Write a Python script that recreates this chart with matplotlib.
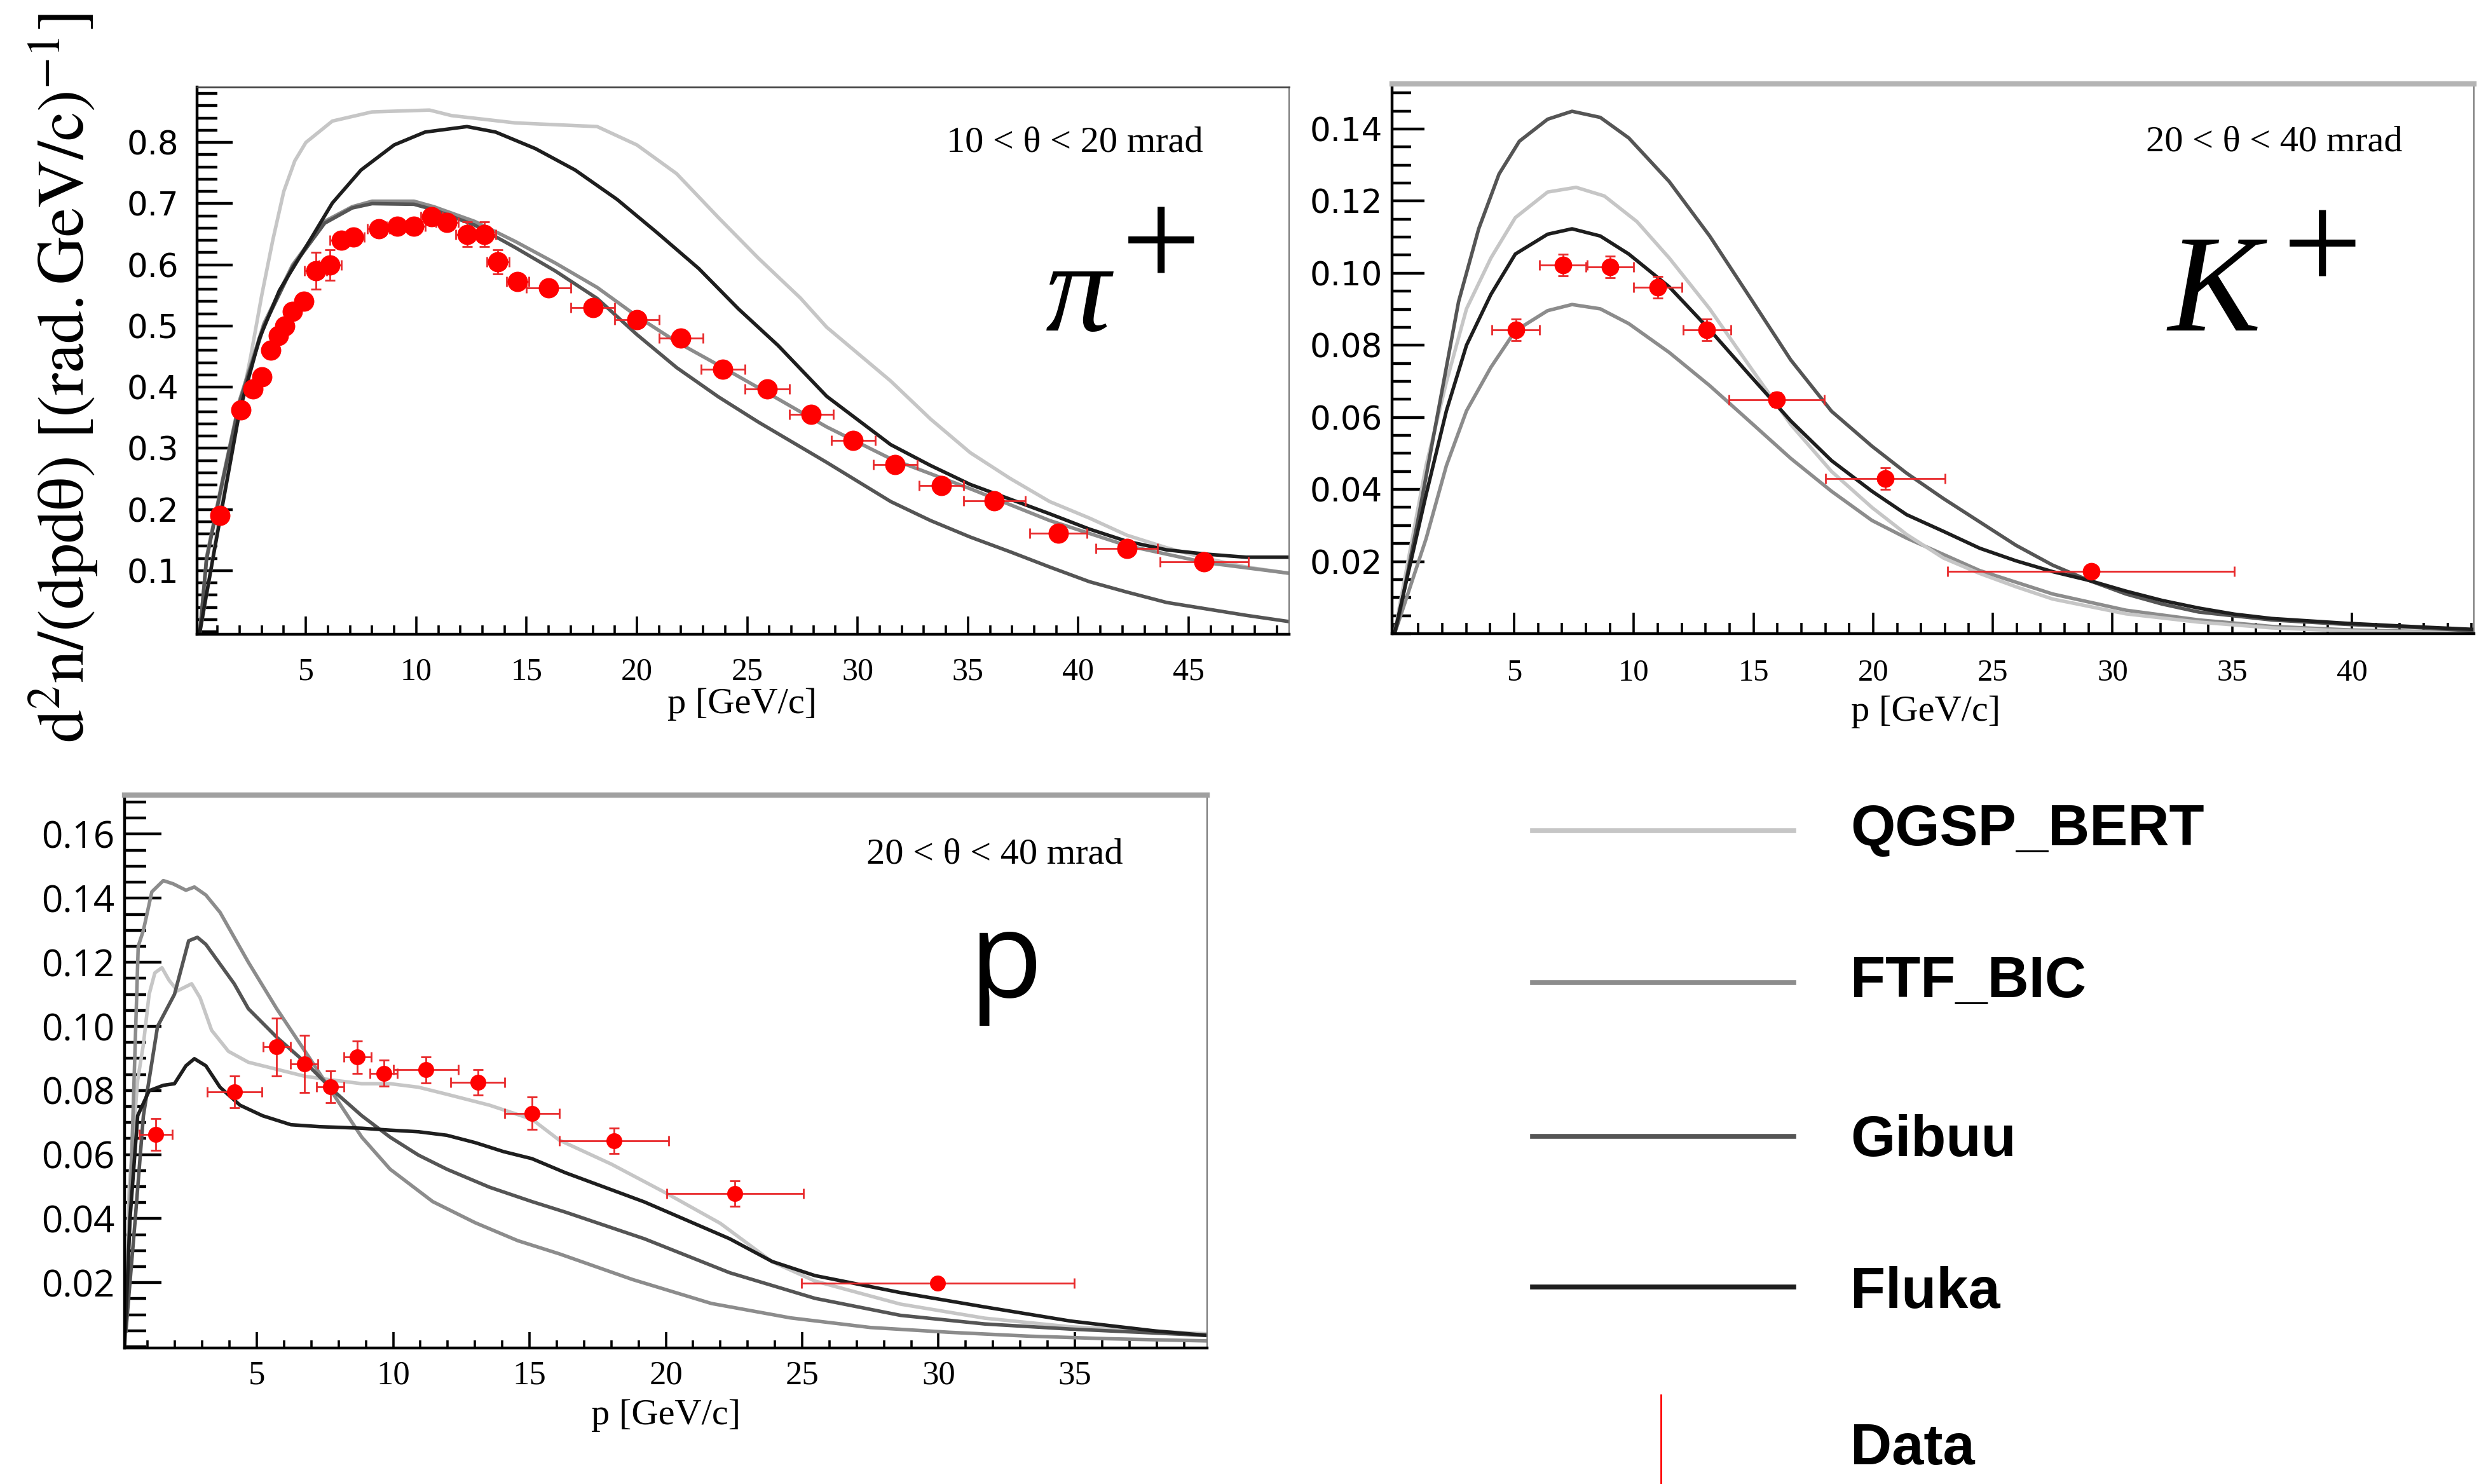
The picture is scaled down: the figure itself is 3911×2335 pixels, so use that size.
import matplotlib
matplotlib.use("Agg")
import matplotlib.pyplot as plt
from matplotlib.lines import Line2D
from matplotlib.ticker import FixedLocator, MultipleLocator, FormatStrFormatter

plt.rcParams['mathtext.fontset'] = 'stix'

SERIF = 'Liberation Serif'

# ---------------- pi+ (10 < theta < 20 mrad) ----------------
PI_P = [1.1, 2.05, 2.6, 3.0, 3.4, 3.75, 4.05, 4.4, 4.9, 5.45, 6.1, 6.6, 7.15, 8.3, 9.15, 9.9,
        10.7, 11.4, 12.3, 13.1, 13.7, 14.6, 16.0, 18.0, 20.0, 22.0, 23.9, 25.9, 27.9, 29.8,
        31.7, 33.8, 36.2, 39.1, 42.2, 45.7]
PI_Y = [0.19, 0.363, 0.397, 0.417, 0.46, 0.484, 0.50, 0.524, 0.54, 0.59, 0.60, 0.64, 0.645,
        0.659, 0.663, 0.663, 0.679, 0.669, 0.65, 0.65, 0.605, 0.573, 0.562, 0.53, 0.51, 0.48,
        0.429, 0.397, 0.355, 0.313, 0.273, 0.239, 0.214, 0.161, 0.136, 0.114]
PI_XERR = [0.3, 0.3, 0.3, 0.3, 0.3, 0.3, 0.3, 0.3, 0.3, 0.5, 0.5, 0.5, 0.5, 0.5, 0.5, 0.5,
           0.5, 0.5, 0.5, 0.5, 0.5, 0.5, 1.0, 1.0, 1.0, 1.0, 1.0, 1.0, 1.0, 1.0,
           1.0, 1.0, 1.4, 1.3, 1.4, 2.0]
PI_YERR = [0.012, 0.012, 0.012, 0.012, 0.012, 0.012, 0.012, 0.012, 0.012, 0.03, 0.025, 0.012,
           0.012, 0.012, 0.012, 0.012, 0.012, 0.012, 0.02, 0.02, 0.02, 0.012, 0.012, 0.012,
           0.012, 0.012, 0.012, 0.012, 0.012, 0.012, 0.012, 0.012, 0.012, 0.012, 0.012, 0.012]

PI_QGSP_P = [0.2, 0.6, 1.0, 1.5, 2.0, 2.5, 3.0, 3.5, 4.0, 4.5, 5.0, 6.2, 8.0, 10.6, 11.6, 14.5,
             18.2, 20.0, 21.8, 23.7, 25.5, 27.4, 28.6, 31.5, 33.3, 35.1, 36.9, 38.7, 40.5, 42.2,
             44.0, 45.8, 47.6, 49.5]
PI_QGSP_Y = [0.0, 0.08, 0.17, 0.27, 0.36, 0.45, 0.55, 0.64, 0.72, 0.77, 0.80, 0.835, 0.85,
             0.853, 0.844, 0.832, 0.826, 0.796, 0.749, 0.677, 0.611, 0.546, 0.498, 0.41, 0.348,
             0.293, 0.251, 0.213, 0.186, 0.158, 0.1375, 0.12, 0.106, 0.096]
PI_FTF_P = [0.2, 0.5, 1.25, 2.0, 3.1, 4.4, 5.85, 7.1, 8.0, 9.9, 10.8, 12.65, 14.5, 16.3, 18.2,
            20.0, 21.8, 23.7, 25.9, 28.6, 31.5, 35.1, 38.7, 42.2, 45.8, 49.5]
PI_FTF_Y = [0.0, 0.122, 0.253, 0.379, 0.504, 0.6, 0.671, 0.695, 0.704, 0.704, 0.695, 0.671,
            0.638, 0.603, 0.563, 0.516, 0.474, 0.436, 0.391, 0.335, 0.283, 0.234, 0.182, 0.141,
            0.113, 0.096]
PI_GIBUU_P = [0.2, 0.5, 1.25, 2.0, 3.1, 4.4, 5.85, 7.1, 8.0, 9.9, 10.8, 12.65, 14.5, 16.3, 18.2,
              20.0, 21.8, 23.7, 25.5, 28.6, 31.5, 33.3, 35.1, 36.9, 38.7, 40.5, 42.2, 44.0, 45.8,
              47.6, 49.5]
PI_GIBUU_Y = [0.0, 0.118, 0.25, 0.375, 0.5, 0.597, 0.668, 0.693, 0.700, 0.699, 0.69, 0.665,
              0.628, 0.59, 0.545, 0.486, 0.432, 0.384, 0.343, 0.277, 0.213, 0.182, 0.155, 0.131,
              0.106, 0.082, 0.065, 0.048, 0.0375, 0.027, 0.017]
PI_FLUKA_P = [0.2, 0.5, 1.25, 2.0, 2.9, 3.8, 5.3, 6.2, 7.5, 9.0, 10.4, 12.3, 13.6, 15.4, 17.2,
              19.1, 20.9, 22.8, 24.6, 26.4, 28.6, 31.5, 33.3, 35.1, 36.9, 38.7, 40.5, 42.2, 44.0,
              45.8, 47.6, 49.5]
PI_FLUKA_Y = [0.0, 0.062, 0.212, 0.361, 0.48, 0.558, 0.647, 0.701, 0.755, 0.796, 0.817, 0.826,
              0.817, 0.79, 0.755, 0.707, 0.653, 0.594, 0.528, 0.468, 0.385, 0.306, 0.272, 0.241,
              0.217, 0.193, 0.168, 0.148, 0.134, 0.127, 0.122, 0.122]

# ---------------- K+ (20 < theta < 40 mrad) ----------------
K_P = [5.07, 7.05, 9.0, 11.0, 13.05, 15.97, 20.5, 29.1]
K_Y = [0.0843, 0.1022, 0.1018, 0.0961, 0.0843, 0.0649, 0.043, 0.0173]
K_XERR = [1.0, 1.0, 1.0, 1.0, 1.0, 2.0, 2.5, 6.0]
K_YERR = [0.003, 0.003, 0.003, 0.003, 0.003, 0.002, 0.003, 0.001]

K_QGSP_P = [0.0, 0.31, 1.32, 2.17, 3.01, 4.03, 5.05, 6.4, 7.59, 8.77, 10.13, 11.48, 13.17,
            14.87, 16.56, 18.26, 19.95, 21.4, 22.93, 24.45, 25.97, 27.5, 30.56, 33.6, 36.65,
            40.0, 45.0]
K_QGSP_Y = [0.0, 0.011, 0.0466, 0.0698, 0.0901, 0.1042, 0.1154, 0.1225, 0.1238, 0.1214, 0.1143,
            0.1042, 0.0901, 0.0739, 0.058, 0.045, 0.035, 0.0275, 0.021, 0.0167, 0.013, 0.0096,
            0.0055, 0.0032, 0.0016, 0.0007, 0.0002]
K_FTF_P = [0.0, 0.31, 1.32, 2.17, 3.01, 4.03, 5.05, 6.4, 7.42, 8.6, 9.79, 11.48, 13.17, 14.87,
           16.56, 18.26, 19.95, 21.4, 24.45, 27.5, 30.56, 33.6, 36.65, 40.0, 45.0]
K_FTF_Y = [0.0, 0.006, 0.0263, 0.0466, 0.0618, 0.0739, 0.084, 0.0896, 0.0913, 0.0901, 0.086,
           0.078, 0.0688, 0.0587, 0.0486, 0.0395, 0.0314, 0.0265, 0.0175, 0.011, 0.0065, 0.0038,
           0.002, 0.001, 0.0003]
K_GIBUU_P = [0.0, 0.14, 0.98, 1.83, 2.68, 3.52, 4.37, 5.22, 6.4, 7.42, 8.6, 9.79, 11.48, 13.17,
             14.87, 16.56, 18.26, 19.95, 21.4, 22.93, 24.45, 25.97, 27.5, 29.0, 30.56, 32.08,
             33.6, 36.65, 39.7, 42.7, 45.0]
K_GIBUU_Y = [0.0, 0.003, 0.0314, 0.0618, 0.0921, 0.1123, 0.1275, 0.1366, 0.1427, 0.1449, 0.1432,
             0.1375, 0.1254, 0.1103, 0.0931, 0.0759, 0.0617, 0.052, 0.0445, 0.0375, 0.031,
             0.0245, 0.019, 0.0148, 0.011, 0.0082, 0.006, 0.0038, 0.0026, 0.0017, 0.0008]
K_FLUKA_P = [0.0, 0.31, 1.32, 2.17, 3.01, 4.03, 5.05, 6.4, 7.42, 8.6, 9.79, 11.48, 13.17, 14.87,
             16.56, 18.26, 19.95, 21.4, 22.93, 24.45, 25.97, 27.5, 29.0, 30.56, 32.08, 33.6,
             35.1, 36.65, 39.7, 42.7, 45.0]
K_FLUKA_Y = [0.0, 0.0091, 0.0385, 0.0618, 0.08, 0.0941, 0.1053, 0.1108, 0.1123, 0.1103, 0.1053,
             0.0962, 0.0843, 0.0715, 0.059, 0.048, 0.0395, 0.033, 0.0284, 0.0237, 0.0202,
             0.0172, 0.0148, 0.0118, 0.0092, 0.0071, 0.0054, 0.0042, 0.0029, 0.0019, 0.0012]

# ---------------- p (20 < theta < 40 mrad) ----------------
PR_P = [1.29, 4.19, 5.73, 6.74, 7.7, 8.69, 9.66, 11.2, 13.1, 15.1, 18.1, 22.54, 29.97]
PR_Y = [0.0663, 0.0796, 0.0936, 0.0883, 0.0811, 0.0904, 0.0854, 0.0864, 0.0825, 0.0729,
        0.0643, 0.0478, 0.0198]
PR_XERR = [0.6, 1.0, 0.5, 0.5, 0.5, 0.5, 0.5, 1.2, 1.0, 1.0, 2.0, 2.5, 5.0]
PR_YERR = [0.005, 0.005, 0.009, 0.009, 0.005, 0.005, 0.004, 0.004, 0.004, 0.005, 0.004,
           0.004, 0.001]

PR_QGSP_P = [0.2, 0.32, 0.63, 0.84, 1.05, 1.26, 1.52, 1.78, 2.09, 2.61, 2.92, 3.34, 3.96, 4.69,
             5.73, 6.77, 7.81, 8.85, 9.89, 10.93, 11.97, 13.53, 15.09, 16.09, 18.0, 20.0, 22.0,
             23.9, 25.47, 28.6, 31.7, 34.85, 39.9]
PR_QGSP_Y = [0.01, 0.0498, 0.0832, 0.0944, 0.11, 0.1167, 0.1183, 0.1144, 0.1111, 0.1133, 0.1089,
             0.0988, 0.0922, 0.0888, 0.0866, 0.0844, 0.0832, 0.0821, 0.0821, 0.081, 0.0788,
             0.0754, 0.071, 0.0645, 0.057, 0.048, 0.0385, 0.0265, 0.0205, 0.0133, 0.0089,
             0.0062, 0.004]
PR_FTF_P = [0.2, 0.45, 0.65, 0.84, 1.15, 1.57, 1.93, 2.4, 2.71, 3.13, 3.65, 4.69, 5.73, 6.77,
            7.81, 8.85, 9.89, 11.45, 13.01, 14.57, 16.09, 18.77, 21.67, 24.57, 27.5, 30.4, 33.3,
            36.2, 39.9]
PR_FTF_Y = [0.005, 0.07, 0.125, 0.13, 0.142, 0.1455, 0.1445, 0.1425, 0.1435, 0.141, 0.1356,
            0.12, 0.1055, 0.0922, 0.0788, 0.0654, 0.0554, 0.0453, 0.0387, 0.0331, 0.029, 0.021,
            0.0135, 0.009, 0.006, 0.0045, 0.0033, 0.0025, 0.0018]
PR_GIBUU_P = [0.2, 0.53, 0.84, 1.36, 1.98, 2.5, 2.82, 3.13, 4.17, 4.69, 5.73, 6.77, 7.81, 8.85,
              9.89, 10.93, 11.97, 13.53, 15.09, 16.32, 19.21, 22.34, 25.47, 28.6, 31.7, 34.85,
              39.9]
PR_GIBUU_Y = [0.005, 0.0387, 0.0721, 0.1, 0.11, 0.1267, 0.1278, 0.1256, 0.1133, 0.1055, 0.0966,
              0.0888, 0.0799, 0.0721, 0.0654, 0.0598, 0.0554, 0.0498, 0.0453, 0.042, 0.0337,
              0.0231, 0.0151, 0.0098, 0.0071, 0.0055, 0.0035]
PR_FLUKA_P = [0.15, 0.35, 0.63, 1.05, 1.57, 1.98, 2.4, 2.71, 3.13, 3.65, 4.38, 5.21, 6.25, 7.29,
              8.85, 9.89, 10.93, 11.97, 13.01, 14.05, 15.09, 16.32, 19.21, 22.34, 23.9, 25.47,
              28.6, 31.7, 34.85, 37.97, 39.9]
PR_FLUKA_Y = [0.0, 0.04, 0.0721, 0.0799, 0.0816, 0.0821, 0.0877, 0.0899, 0.0877, 0.081, 0.0754,
              0.0721, 0.0693, 0.0687, 0.0682, 0.0676, 0.0671, 0.066, 0.0637, 0.0609, 0.0587,
              0.0543, 0.0452, 0.0337, 0.0266, 0.0222, 0.0169, 0.0124, 0.008, 0.0049, 0.0035]

# tick label values
PI_XTICKS = [5, 10, 15, 20, 25, 30, 35, 40, 45]
PI_YTICKS = [0.1, 0.2, 0.3, 0.4, 0.5, 0.6, 0.7, 0.8]
K_XTICKS = [5, 10, 15, 20, 25, 30, 35, 40]
K_YTICKS = [0.02, 0.04, 0.06, 0.08, 0.10, 0.12, 0.14]
PR_XTICKS = [5, 10, 15, 20, 25, 30, 35]
PR_YTICKS = [0.02, 0.04, 0.06, 0.08, 0.10, 0.12, 0.14, 0.16]

LEGEND_LABELS = ['QGSP_BERT', 'FTF_BIC', 'Gibuu', 'Fluka', 'Data']
MODEL_COLORS = {'QGSP_BERT': '#c6c6c6', 'FTF_BIC': '#8c8c8c', 'Gibuu': '#555555', 'Fluka': '#1e1e1e'}
DATA_COLOR = '#ff0000'

W, H = 3911, 2335
fig = plt.figure(figsize=(W / 100, H / 100), dpi=100)


def add_axes_px(left, top, right, bottom):
    # axes box given in pixels of the final image
    return fig.add_axes([left / W, 1 - bottom / H, (right - left) / W, (bottom - top) / H])


def style_axes(ax, xlim, ylim, xticks, yticks, yminor, yfmt, yfont, ysize, ypad,
               xsize, xpad, ylen, xlen, top_color, top_lw):
    ax.set_xlim(*xlim)
    ax.set_ylim(*ylim)
    ax.xaxis.set_major_locator(FixedLocator(xticks))
    ax.xaxis.set_minor_locator(MultipleLocator(1))
    ax.yaxis.set_major_locator(FixedLocator(yticks))
    ax.yaxis.set_minor_locator(MultipleLocator(yminor))
    ax.yaxis.set_major_formatter(FormatStrFormatter(yfmt))
    ax.tick_params(axis='y', which='major', direction='in', length=ylen, width=3.2,
                   labelsize=ysize, labelfontfamily=yfont, pad=ypad)
    ax.tick_params(axis='y', which='minor', direction='in', length=ylen * 0.58, width=3.2)
    ax.tick_params(axis='x', which='major', direction='in', length=xlen, width=2.6,
                   labelsize=xsize, labelfontfamily=SERIF, pad=xpad)
    ax.tick_params(axis='x', which='minor', direction='in', length=xlen * 0.5, width=2.6)
    for s in ('left', 'bottom'):
        ax.spines[s].set_linewidth(3.2)
        ax.spines[s].set_color('black')
    ax.spines['top'].set_color(top_color)
    ax.spines['top'].set_linewidth(top_lw)
    ax.spines['right'].set_color('#777777')
    ax.spines['right'].set_linewidth(1.5)


def draw_models(ax, curves):
    for name, p, y in curves:
        ax.plot(p, y, color=MODEL_COLORS[name], lw=4, solid_joinstyle='round', zorder=2)


def draw_data(ax, p, y, xerr, yerr, ms):
    ax.errorbar(p, y, xerr=xerr, yerr=yerr, fmt='o', color=DATA_COLOR, ms=ms, mec=DATA_COLOR,
                ecolor='#e8292b', elinewidth=2, capsize=6, capthick=2, zorder=5)


# ---- pi+ panel
ax1 = add_axes_px(310, 137, 2028, 998)
draw_models(ax1, [('QGSP_BERT', PI_QGSP_P, PI_QGSP_Y), ('FTF_BIC', PI_FTF_P, PI_FTF_Y),
                  ('Gibuu', PI_GIBUU_P, PI_GIBUU_Y), ('Fluka', PI_FLUKA_P, PI_FLUKA_Y)])
draw_data(ax1, PI_P, PI_Y, PI_XERR, PI_YERR, 22)
style_axes(ax1, (0.07, 49.55), (-0.004, 0.8906), PI_XTICKS, PI_YTICKS, 0.02, '%.1f',
           'DejaVu Sans', 37, 21, 36, 26, 40, 20, '#444444', 2)
ax1.set_xlabel('p [GeV/c]', fontfamily=SERIF, fontsize=42)
ax1.xaxis.set_label_coords(0.499, -0.097)
ax1.text(0.921, 0.898, '10 < θ < 20 mrad', transform=ax1.transAxes, ha='right', va='center',
         fontfamily=SERIF, fontsize=42)
ax1.text(0.807, 0.555, 'π', transform=ax1.transAxes, ha='center', va='baseline',
         fontfamily=SERIF, fontstyle='italic', fontsize=147)
ax1.text(0.883, 0.635, '+', transform=ax1.transAxes, ha='center', va='baseline',
         fontfamily=SERIF, fontsize=160)

# ---- K+ panel
ax2 = add_axes_px(2190, 132, 3892, 997)
draw_models(ax2, [('FTF_BIC', K_FTF_P, K_FTF_Y), ('QGSP_BERT', K_QGSP_P, K_QGSP_Y),
                  ('Gibuu', K_GIBUU_P, K_GIBUU_Y), ('Fluka', K_FLUKA_P, K_FLUKA_Y)])
draw_data(ax2, K_P, K_Y, K_XERR, K_YERR, 19)
style_axes(ax2, (-0.1, 45.1), (0, 0.1525), K_XTICKS, K_YTICKS, 0.005, '%.2f',
           'DejaVu Sans', 37, 11, 35, 29, 37, 24, '#b4b4b4', 6)
ax2.set_xlabel('p [GeV/c]', fontfamily=SERIF, fontsize=42)
ax2.xaxis.set_label_coords(0.493, -0.112)
ax2.text(0.934, 0.894, '20 < θ < 40 mrad', transform=ax2.transAxes, ha='right', va='center',
         fontfamily=SERIF, fontsize=42)
ax2.text(0.76, 0.551, 'K', transform=ax2.transAxes, ha='center', va='baseline',
         fontfamily=SERIF, fontstyle='italic', fontsize=158)
ax2.text(0.86, 0.625, '+', transform=ax2.transAxes, ha='center', va='baseline',
         fontfamily=SERIF, fontsize=160)

# ---- proton panel
ax3 = add_axes_px(196, 1251, 1899, 2121)
draw_models(ax3, [('QGSP_BERT', PR_QGSP_P, PR_QGSP_Y), ('FTF_BIC', PR_FTF_P, PR_FTF_Y),
                  ('Gibuu', PR_GIBUU_P, PR_GIBUU_Y), ('Fluka', PR_FLUKA_P, PR_FLUKA_Y)])
draw_data(ax3, PR_P, PR_Y, PR_XERR, PR_YERR, 17)
style_axes(ax3, (0.15, 39.85), (-0.0004, 0.1722), PR_XTICKS, PR_YTICKS, 0.005, '%.2f',
           'Open Sans', 42, 11, 38, 14, 42, 18, '#a0a0a0', 6)
ax3.set_xlabel('p [GeV/c]', fontfamily=SERIF, fontsize=42)
ax3.xaxis.set_label_coords(0.500, -0.092)
ax3.text(0.922, 0.892, '20 < θ < 40 mrad', transform=ax3.transAxes, ha='right', va='center',
         fontfamily=SERIF, fontsize=42)
ax3.text(0.814, 0.634, 'p', transform=ax3.transAxes, ha='center', va='baseline',
         fontfamily='Open Sans', fontsize=136)

# shared y title
fig.text(0.0256, 0.745, r'$\mathrm{d^{2}n/(dpd\theta)\ [(rad{.}GeV/c)^{-1}]}$', rotation=90,
         ha='center', va='center', fontsize=75)

# legend drawn by hand in the empty lower-right quadrant
line_rows = [0.4403, 0.3379, 0.2343, 0.1328]
text_rows = [0.4304, 0.328, 0.221, 0.1186, 0.0133]
for i, label in enumerate(LEGEND_LABELS):
    if label in MODEL_COLORS:
        fig.add_artist(Line2D([0.6165, 0.7215], [line_rows[i], line_rows[i]],
                              color=MODEL_COLORS[label], lw=5.5))
    else:
        fig.add_artist(Line2D([0.668, 0.668], [0.06, -0.02], color=DATA_COLOR, lw=2))
    fig.text(0.7443, text_rows[i], label, ha='left', va='baseline', fontsize=65,
             fontweight='bold', fontfamily='Liberation Sans')

fig.savefig('out.png', dpi=100, facecolor='white')
